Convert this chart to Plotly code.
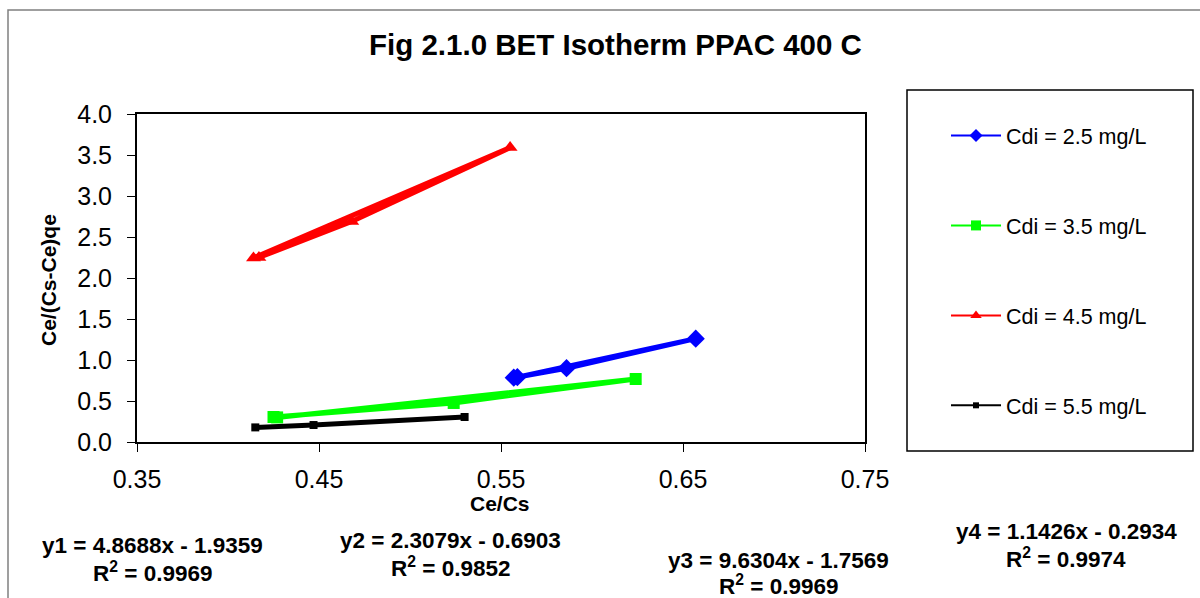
import plotly.graph_objects as go

# Data
series_names = ["Cdi = 2.5 mg/L", "Cdi = 3.5 mg/L", "Cdi = 4.5 mg/L", "Cdi = 5.5 mg/L"]
x_25 = [0.557, 0.586, 0.657, 0.559]
y_25 = [0.784, 0.900, 1.260, 0.790]
x_35 = [0.425, 0.524, 0.624, 0.427]
y_35 = [0.305, 0.476, 0.768, 0.300]
x_45 = [0.414, 0.555, 0.468, 0.417]
y_45 = [2.245, 3.590, 2.690, 2.250]
x_55 = [0.415, 0.447, 0.530]
y_55 = [0.178, 0.207, 0.305]

equations = [
    ("y1 = 4.8688x - 1.9359", "R<sup>2</sup> = 0.9969"),
    ("y2 = 2.3079x - 0.6903", "R<sup>2</sup> = 0.9852"),
    ("y3 = 9.6304x - 1.7569", "R<sup>2</sup> = 0.9969"),
    ("y4 = 1.1426x - 0.2934", "R<sup>2</sup> = 0.9974"),
]
title_text = "Fig 2.1.0 BET Isotherm PPAC 400 C"
x_title = "Ce/Cs"
y_title = "Ce/(Cs-Ce)qe"
x_ticks = [0.35, 0.45, 0.55, 0.65, 0.75]
y_ticks = [0.0, 0.5, 1.0, 1.5, 2.0, 2.5, 3.0, 3.5, 4.0]

W, H = 1200, 598
L, R, T, B = 137, 335, 114, 156
PW, PH = W - L - R, H - T - B


def fx(p):
    return (p - L) / PW


def fy(p):
    return (H - B - p) / PH


fig = go.Figure()
styles = [
    dict(color="#0000FF", symbol="diamond", size=14, lsize=10),
    dict(color="#00FF00", symbol="square", size=12, lsize=10),
    dict(color="#FF0000", symbol="triangle-up", size=13, lsize=10),
    dict(color="#000000", symbol="square", size=8, lsize=6),
]
data = [(x_25, y_25), (x_35, y_35), (x_45, y_45), (x_55, y_55)]
for i, ((xs, ys), name, st) in enumerate(zip(data, series_names, styles)):
    fig.add_trace(go.Scatter(
        x=xs, y=ys, name=name, mode="lines+markers",
        line=dict(color=st["color"], width=5),
        marker=dict(color=st["color"], symbol=st["symbol"], size=st["size"]),
        showlegend=False,
    ))
# legend entries (thin lines, small markers as in the reference legend)
for i, (name, st) in enumerate(zip(series_names, styles)):
    fig.add_trace(go.Scatter(
        x=[None], y=[None], name=name, mode="lines+markers",
        line=dict(color=st["color"], width=2),
        marker=dict(color=st["color"], symbol=st["symbol"], size=st["lsize"]),
        legendgroup=str(i), showlegend=True,
    ))

shapes = [
    # outer chart border
    dict(type="rect", xref="paper", yref="paper",
         x0=fx(8), x1=fx(1215), y0=fy(610), y1=fy(10),
         line=dict(color="#808080", width=1.5), layer="below"),
    # legend box
    dict(type="rect", xref="paper", yref="paper",
         x0=fx(907), x1=fx(1193), y0=fy(451), y1=fy(90),
         line=dict(color="#000000", width=1.5)),
]

annotations = [
    dict(text="<b>" + title_text + "</b>", x=fx(615), y=fy(44),
         xref="paper", yref="paper", showarrow=False,
         font=dict(size=29.5, color="black"), xanchor="center", yanchor="middle"),
    dict(text="<b>" + x_title + "</b>", x=fx(500), y=fy(503),
         xref="paper", yref="paper", showarrow=False,
         font=dict(size=21, color="black"), xanchor="center", yanchor="middle"),
    dict(text="<b>" + y_title + "</b>", x=fx(48), y=fy(280), textangle=-90,
         xref="paper", yref="paper", showarrow=False,
         font=dict(size=21, color="black"), xanchor="center", yanchor="middle"),
]
eq_pos = [(152, 545, 572), (450, 540, 567), (778, 560, 585), (1066, 531, 558)]
for (e, r2), (cx, y1, y2) in zip(equations, eq_pos):
    for txt, yy in ((e, y1), (r2, y2)):
        annotations.append(dict(
            text="<b>" + txt + "</b>", x=fx(cx), y=fy(yy),
            xref="paper", yref="paper", showarrow=False, xanchor="center", yanchor="middle",
            font=dict(size=22.5, color="black")))

fig.update_layout(
    width=W, height=H,
    margin=dict(l=L, r=R, t=T, b=B),
    paper_bgcolor="white", plot_bgcolor="white",
    font=dict(family="Arial, Liberation Sans, sans-serif", color="black"),
    showlegend=True,
    legend=dict(
        x=fx(946), y=fy(115),
        xanchor="left", yanchor="top", font=dict(size=21.5),
        bgcolor="rgba(0,0,0,0)", borderwidth=0, tracegroupgap=59,
        itemwidth=50,
    ),
    shapes=shapes,
    annotations=annotations,
    xaxis=dict(
        range=[0.35, 0.75], tickvals=x_ticks, ticktext=[f"{v:.2f}" for v in x_ticks],
        showgrid=False, zeroline=False, showline=True, linecolor="black", linewidth=2,
        mirror=True, ticks="outside", ticklen=8, tickcolor="black", tickwidth=1,
        tickfont=dict(size=25), ticklabelstandoff=6,
    ),
    yaxis=dict(
        range=[0, 4.0], tickvals=y_ticks, ticktext=[f"{v:.1f}" for v in y_ticks],
        showgrid=False, zeroline=False, showline=True, linecolor="black", linewidth=2,
        mirror=True, ticks="outside", ticklen=8, tickcolor="black", tickwidth=1,
        tickfont=dict(size=25), ticklabelstandoff=10,
    ),
)

fig.write_html("out.html", config={"displayModeBar": False},
               post_script="document.body.style.margin='0px';")
